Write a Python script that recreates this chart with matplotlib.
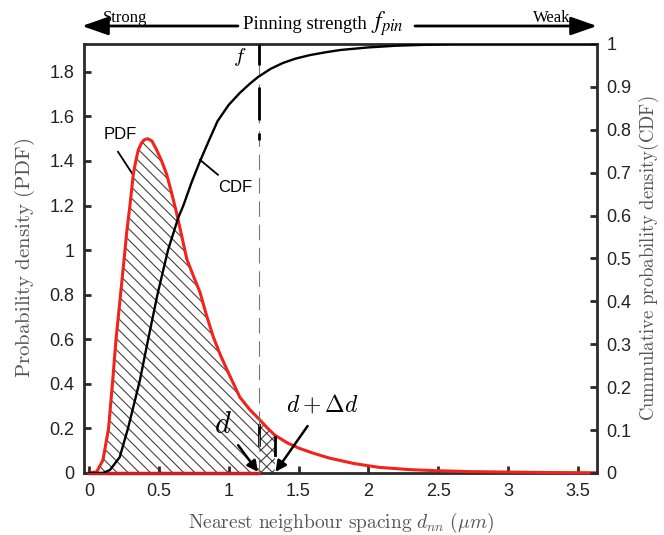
import numpy as np
import matplotlib
matplotlib.use("Agg")
import matplotlib.pyplot as plt
from matplotlib.patches import FancyArrowPatch

# --- values ---
pdf_x = [0, 0.055, 0.10, 0.14, 0.17, 0.193, 0.222, 0.246, 0.27, 0.293, 0.317, 0.335, 0.353,
         0.375, 0.395, 0.42, 0.45, 0.484, 0.52, 0.556, 0.59, 0.627, 0.665, 0.70, 0.75, 0.795,
         0.84, 0.89, 0.94, 0.99, 1.035, 1.08, 1.15, 1.22, 1.28, 1.33, 1.42, 1.5, 1.6, 1.72,
         1.9, 2.08, 2.3, 2.5, 2.75, 3.0, 3.3, 3.64]
pdf_y = [0, 0.005, 0.058, 0.2, 0.417, 0.597, 0.776, 0.926, 1.08, 1.2, 1.34, 1.40, 1.45,
         1.48, 1.495, 1.5, 1.49, 1.45, 1.40, 1.34, 1.26, 1.167, 1.06, 0.96, 0.88, 0.81,
         0.71, 0.61, 0.53, 0.46, 0.40, 0.34, 0.285, 0.24, 0.20, 0.17, 0.135, 0.112, 0.09,
         0.067, 0.042, 0.025, 0.015, 0.01, 0.006, 0.004, 0.002, 0.001]

cdf_x = [0, 0.1, 0.15, 0.22, 0.28, 0.365, 0.41, 0.49, 0.566, 0.64, 0.675, 0.735, 0.795,
         0.86, 0.92, 1.0, 1.08, 1.15, 1.21, 1.3, 1.39, 1.48, 1.58, 1.7, 1.8, 2.0, 2.2, 2.4,
         2.6, 3.64]
cdf_y = [0, 0.0, 0.007, 0.037, 0.105, 0.217, 0.29, 0.416, 0.52, 0.596, 0.623, 0.678, 0.727,
         0.776, 0.82, 0.858, 0.886, 0.907, 0.923, 0.942, 0.956, 0.966, 0.974, 0.981, 0.986,
         0.992, 0.996, 0.998, 1.0, 1.0]

d_val = 1.22      # d
dd_val = 1.33     # d + delta d

x_ticks = [0, 0.5, 1, 1.5, 2, 2.5, 3, 3.5]
x_labels = ['0', '0.5', '1', '1.5', '2', '2.5', '3', '3.5']
yl_ticks = [0, 0.2, 0.4, 0.6, 0.8, 1.0, 1.2, 1.4, 1.6, 1.8]
yl_labels = ['0', '0.2', '0.4', '0.6', '0.8', '1', '1.2', '1.4', '1.6', '1.8']
yr_ticks = [0, 0.1, 0.2, 0.3, 0.4, 0.5, 0.6, 0.7, 0.8, 0.9, 1.0]
yr_labels = ['0', '0.1', '0.2', '0.3', '0.4', '0.5', '0.6', '0.7', '0.8', '0.9', '1']

plt.rcParams['font.family'] = ['Liberation Sans', 'DejaVu Sans']
plt.rcParams['mathtext.fontset'] = 'cm'
plt.rcParams['hatch.linewidth'] = 0.8

red = '#f2231a'
spine_col = '#2a2a2a'
label_col = '#555555'

fig = plt.figure(figsize=(6.64, 5.35), dpi=100)
ax = fig.add_axes([0.1265, 0.1159, 0.7725, 0.8019])
ax2 = ax.twinx()

px = np.array(pdf_x)
py = np.array(pdf_y)

# hatched area under the PDF up to d, cross-hatched between d and d+dd
ax.fill_between(px, py, where=px <= d_val, facecolor='none', edgecolor='#444444',
                linewidth=0, hatch='\\\\\\', zorder=1)
ax.fill_between(px, py, where=(px >= d_val) & (px <= dd_val), facecolor='none',
                edgecolor='#444444', linewidth=0, hatch='xxx', zorder=1)

ax.plot(px, py, color=red, lw=2.2, zorder=4, clip_on=False)
ax.plot([0, d_val], [0, 0], color='#c81e1e', lw=2.5, zorder=4, clip_on=False)

# marks on the d / d+dd borders
ax.plot([d_val, d_val], [0.126, 0.215], color='black', lw=2, zorder=4)
ax.plot([dd_val, dd_val], [0.08, 0.16], color='black', lw=2, zorder=4)

ax2.plot(cdf_x, cdf_y, color='black', lw=1.7, zorder=3)

# vertical line at d
ax2.plot([d_val, d_val], [0, 1], color='#777777', lw=0.8, dashes=(14, 7), zorder=2)
for y0, y1 in [(0.951, 1.0), (0.823, 0.90), (0.776, 0.793)]:
    ax2.plot([d_val, d_val], [y0, y1], color='black', lw=2, zorder=3, solid_capstyle='butt')

ax.set_xlim(-0.0358, 3.636)
ax.set_ylim(0, 1.925)
ax2.set_ylim(0, 1)

ax.set_xticks(x_ticks)
ax.set_xticklabels(x_labels)
ax.set_yticks(yl_ticks)
ax.set_yticklabels(yl_labels)
ax2.set_yticks(yr_ticks)
ax2.set_yticklabels(yr_labels)

for a in (ax, ax2):
    a.tick_params(direction='in', length=5, width=2, labelsize=13, colors=spine_col,
                  labelcolor='#222222', pad=7)
    for s in a.spines.values():
        s.set_linewidth(2)
        s.set_color(spine_col)
ax.tick_params(top=False, right=False)
ax2.tick_params(left=False)
for s in ['top', 'bottom', 'left']:
    ax2.spines[s].set_visible(False)
ax.spines['right'].set_visible(False)

ax.set_xlabel(r'$\mathrm{Nearest\ neighbour\ spacing}\ d_{nn}\ (\mu m)$',
              fontsize=14, color=label_col, labelpad=8)
ax.set_ylabel(r'$\mathrm{Probability\ density\ (PDF)}$', fontsize=15, color=label_col,
              labelpad=9)
ax2.set_ylabel(r'$\mathrm{Cummulative\ probability\ density(CDF)}$', fontsize=13.5,
               color=label_col, labelpad=4)

# PDF / CDF labels
ax.text(0.222, 1.517, 'PDF', fontsize=12, ha='center', va='center')
ax.plot([0.208, 0.315], [1.441, 1.338], color='black', lw=1.3)
ax.text(1.045, 1.279, 'CDF', fontsize=12, ha='center', va='center')
ax.plot([0.923, 0.795], [1.338, 1.405], color='black', lw=1.3)

ax.text(1.124, 1.867, r'$f$', fontsize=15, ha='right', va='center')

ax.annotate(r'$d$', xy=(1.21, 0.005), xytext=(0.96, 0.215), fontsize=22, ha='center',
            va='center', zorder=6,
            arrowprops=dict(arrowstyle='-|>', color='black', lw=1.8, mutation_scale=16,
                            shrinkA=4, shrinkB=0))
ax.annotate(r'$d + \Delta d$', xy=(1.335, 0.005), xytext=(1.67, 0.305), fontsize=17,
            ha='center', va='center', zorder=6,
            arrowprops=dict(arrowstyle='-|>', color='black', lw=1.8, mutation_scale=16,
                            shrinkA=6, shrinkB=0))

# top "pinning strength" arrow
ya = 1 - 26 / 535
fig.text(243 / 664, 1 - 29 / 535, 'Pinning strength', fontsize=13.5, ha='left',
         va='baseline', family='Liberation Serif')
fig.text(371 / 664, 1 - 29 / 535, r'$f_{pin}$', fontsize=17, ha='left', va='baseline',
         math_fontfamily='stix')
head = '-|>,head_length=0.8,head_width=0.28'
fig.add_artist(FancyArrowPatch((238 / 664, ya), (82 / 664, ya), transform=fig.transFigure,
                               arrowstyle=head, mutation_scale=20, lw=2, color='black',
                               shrinkA=0, shrinkB=0))
fig.add_artist(FancyArrowPatch((415 / 664, ya), (597 / 664, ya), transform=fig.transFigure,
                               arrowstyle=head, mutation_scale=20, lw=2, color='black',
                               shrinkA=0, shrinkB=0))
fig.text(103 / 664, 1 - 22 / 535, 'Strong', fontsize=12, ha='left', va='baseline',
         family='Liberation Serif')
fig.text(570 / 664, 1 - 22 / 535, 'Weak', fontsize=12, ha='right', va='baseline',
         family='Liberation Serif')

fig.savefig('out.png', dpi=100)
